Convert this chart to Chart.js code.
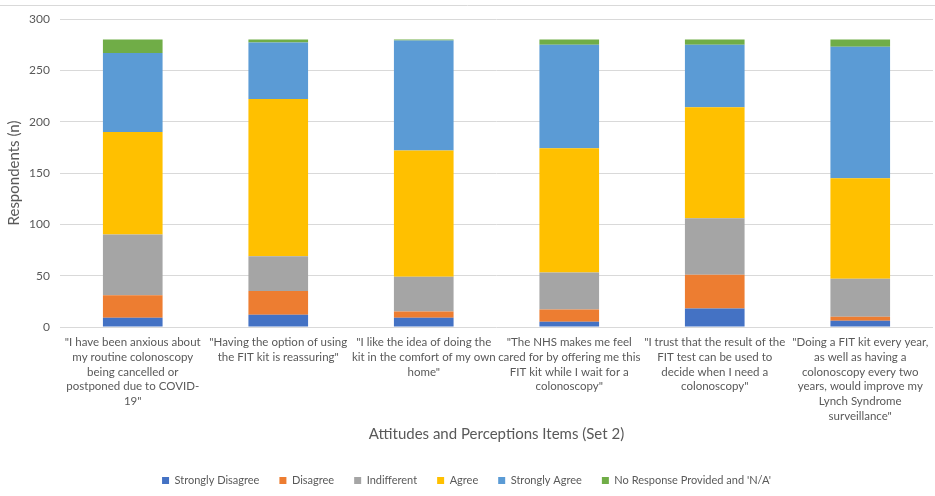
<!DOCTYPE html>
<html>
<head>
<meta charset="utf-8">
<script src="https://cdn.jsdelivr.net/npm/chart.js@4/dist/chart.umd.min.js"></script>
<style>
  html, body { margin: 0; padding: 0; background: #fff; }
  #wrap { width: 935px; height: 496px; position: relative; }
</style>
</head>
<body>
<div id="wrap"><canvas id="chart" width="935" height="496"></canvas></div>
<script>
const items = [
  ['"I have been anxious about', 'my routine colonoscopy', 'being cancelled or', 'postponed due to COVID-', '19"'],
  ['"Having the option of using', 'the FIT kit is reassuring"'],
  ['"I like the idea of doing the', 'kit in the comfort of my own', 'home"'],
  ['"The NHS makes me feel', 'cared for by offering me this', 'FIT kit while I wait for a', 'colonoscopy"'],
  ['"I trust that the result of the', 'FIT test can be used to', 'decide when I need a', 'colonoscopy"'],
  ['"Doing a FIT kit every year,', 'as well as having a', 'colonoscopy every two', 'years, would improve my', 'Lynch Syndrome', 'surveillance"']
];

const stronglyDisagree = [9, 12, 9, 5, 18, 6];
const disagree = [22, 23, 6, 12, 33, 4];
const indifferent = [59, 34, 34, 36, 55, 37];
const agree = [100, 153, 123, 121, 108, 98];
const stronglyAgree = [77, 55, 107, 101, 61, 128];
const noResponse = [13, 3, 1, 5, 5, 7];

const yTicks = [0, 50, 100, 150, 200, 250, 300];

const textColor = "#595959";
const fontFamily = "Lato, 'Open Sans', sans-serif";

const series = [
  { label: "Strongly Disagree", data: stronglyDisagree, color: "#4472C4" },
  { label: "Disagree", data: disagree, color: "#ED7D31" },
  { label: "Indifferent", data: indifferent, color: "#A5A5A5" },
  { label: "Agree", data: agree, color: "#FFC000" },
  { label: "Strongly Agree", data: stronglyAgree, color: "#5B9BD5" },
  { label: "No Response Provided and 'N/A'", data: noResponse, color: "#70AD47" }
];

// thin frame line along the top like the exported chart
const frameLine = {
  id: "frameLine",
  beforeDraw(chart) {
    const ctx = chart.ctx;
    ctx.save();
    ctx.strokeStyle = "#d9d9d9";
    ctx.lineWidth = 1;
    ctx.beginPath();
    ctx.moveTo(0, 5.5);
    ctx.lineTo(chart.width, 5.5);
    ctx.stroke();
    ctx.restore();
  }
};

new Chart(document.getElementById("chart"), {
  type: "bar",
  data: {
    labels: items,
    datasets: series.map(s => ({
      label: s.label,
      data: s.data,
      backgroundColor: s.color,
      borderWidth: 0,
      barPercentage: 0.41,
      categoryPercentage: 1
    }))
  },
  options: {
    responsive: false,
    animation: false,
    layout: { padding: { top: 19, right: 2, left: 0, bottom: 0 } },
    plugins: {
      legend: {
        position: "bottom",
        labels: {
          boxWidth: 7,
          boxHeight: 7,
          padding: 20,
          color: textColor,
          font: { family: fontFamily, size: 11 }
        }
      },
      tooltip: { enabled: false }
    },
    scales: {
      x: {
        stacked: true,
        grid: { display: false },
        border: { display: false },
        ticks: {
          color: textColor,
          maxRotation: 0,
          autoSkip: false,
          padding: 0,
          font: { family: fontFamily, size: 11.5, lineHeight: 1.28 }
        },
        title: {
          display: true,
          text: "Attitudes and Perceptions Items (Set 2)",
          color: textColor,
          font: { family: fontFamily, size: 15 },
          padding: { top: 4, bottom: 12 }
        },
        afterFit(scale) { scale.height = 128; }
      },
      y: {
        stacked: true,
        min: 0,
        max: 300,
        afterBuildTicks(scale) { scale.ticks = yTicks.map(v => ({ value: v })); },
        grid: { color: "#d9d9d9", drawTicks: false },
        border: { display: false },
        ticks: {
          color: textColor,
          padding: 10,
          font: { family: fontFamily, size: 12 }
        },
        title: {
          display: true,
          text: "Respondents (n)",
          color: textColor,
          font: { family: fontFamily, size: 15 },
          padding: { top: 5, bottom: 0 }
        },
        afterFit(scale) { scale.width = 60; }
      }
    }
  },
  plugins: [frameLine]
});
</script>
</body>
</html>
